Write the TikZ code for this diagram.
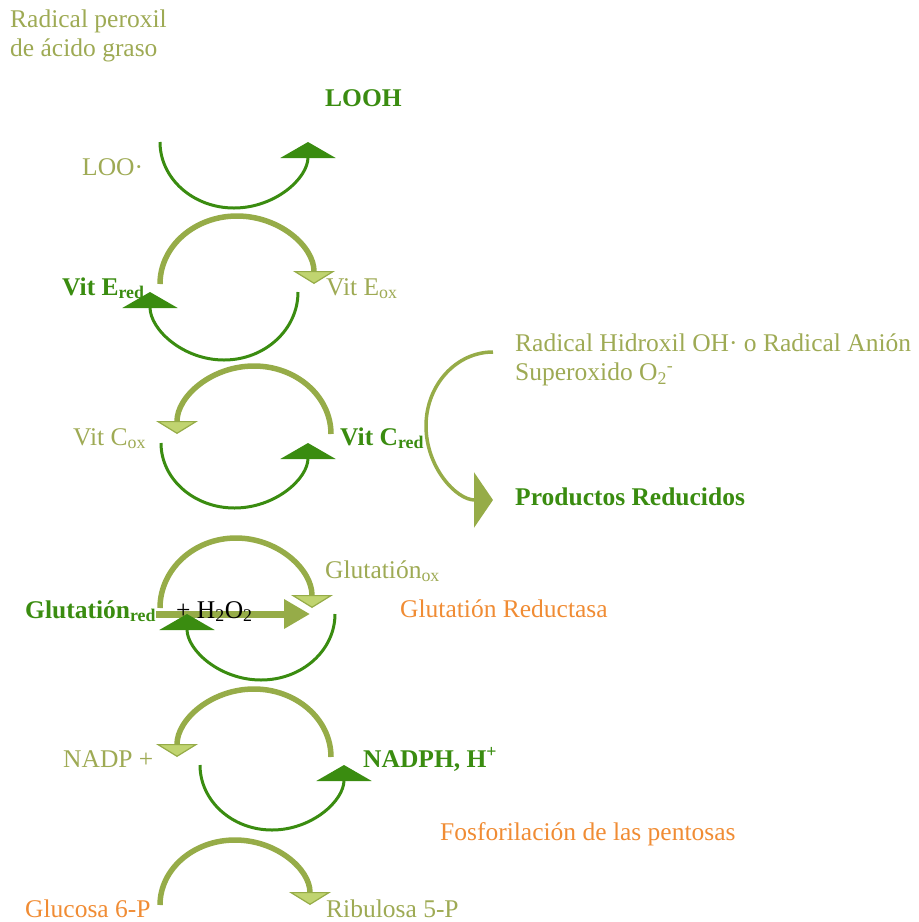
\documentclass[tikz,border=0pt]{standalone}
\usepackage{fontspec}
\setmainfont{Liberation Serif}
\usetikzlibrary{arrows.meta}

\definecolor{leafgreen}{RGB}{58,140,16}
\definecolor{olivetext}{RGB}{158,170,84}
\definecolor{olivearc}{RGB}{150,172,72}
\definecolor{olivefill}{RGB}{192,212,112}
\definecolor{enzorange}{RGB}{240,140,52}
\newcommand{\subtx}[1]{\textsubscript{#1}}

\begin{document}
\begin{tikzpicture}[
    x=1pt, y=-1pt,
    font=\fontsize{25.5}{28.5}\selectfont,
    every node/.style={inner sep=0pt, anchor=base west},
    darkhead/.tip={Triangle[width=55pt, length=16pt]},
    palehead/.tip={Triangle[width=42pt, length=13pt, line width=1.2pt, fill=olivefill]},
    darkarc/.style={draw=leafgreen, line width=3pt, -darkhead},
    palearc/.style={draw=olivearc, line width=5.5pt, -palehead},
    sidearc/.style={draw=olivearc, line width=3.5pt, -{Triangle[width=55pt, length=19pt]}},
    straightarrow/.style={draw=olivearc, line width=7pt, -{Triangle[width=28pt, length=26pt]}},
    oxlabel/.style={text=olivetext},
    redlabel/.style={text=leafgreen, font=\fontsize{25.5}{28.5}\selectfont\bfseries},
    enzlabel/.style={text=enzorange},
    ]
    \useasboundingbox (0,0) rectangle (919,922);

    \coordinate (h2o2tip) at (310,614);
    \node[redlabel] (glured) at (25,618) {Glutatión\subtx{red}};
    \draw[straightarrow] (glured.east |- h2o2tip) -- (h2o2tip);

    % cycle arcs: centre x / centre y / x radius / y radius / from / to / style
    \foreach \cx/\cy/\rx/\ry/\sa/\ea/\kind in {
        234/142/74/66/180/360/darkarc,
        237/284/77/68/180/0/palearc,
        224/292/74/68/360/180/darkarc,
        254/434/77/68/0/180/palearc,
        234.5/443/73.5/65/180/360/darkarc,
        236/608/76/70/180/0/palearc,
        261/614/74/66/360/180/darkarc,
        254/757/77/68/0/180/palearc,
        272/765/72/65/180/360/darkarc,
        235/905/75/65/180/0/palearc}{
        \draw[\kind] (\cx,\cy) ++(\sa:\rx pt and \ry pt)
            arc[start angle=\sa, end angle=\ea, x radius=\rx pt, y radius=\ry pt];
    }
    \draw[sidearc] (493,352) arc[start angle=90, end angle=270, x radius=67pt, y radius=74pt];

    \node[oxlabel, align=left, anchor=north west] (peroxyl) at (10,10) {Radical peroxil\\de ácido graso};
    \node[redlabel] (looh) at (325,106) {LOOH};
    \node[oxlabel] (loo) at (82,175) {LOO·};
    \node[redlabel] (vitered) at (62,295) {Vit E\subtx{red}};
    \node[oxlabel] (viteox) at (326,295) {Vit E\subtx{ox}};
    \node[oxlabel] (vitcox) at (73,445) {Vit C\subtx{ox}};
    \node[redlabel] (vitcred) at (340,445) {Vit C\subtx{red}};
    \node[oxlabel, align=left, anchor=north west] (hydroxyl) at (515,334)
        {Radical Hidroxil OH· o Radical Anión\\Superoxido O\subtx{2}\textsuperscript{-}};
    \node[redlabel] (products) at (515,505) {Productos Reducidos};
    \node[oxlabel] (gluox) at (325,578) {Glutatión\subtx{ox}};
    \node (peroxide) at (176,618) {+ H\subtx{2}O\subtx{2}};
    \node[enzlabel] (reductase) at (400,617) {Glutatión Reductasa};
    \node[oxlabel] (nadp) at (63,767) {NADP +};
    \node[redlabel] (nadph) at (363,767) {NADPH, H\textsuperscript{+}};
    \node[enzlabel] (phosph) at (440,840) {Fosforilación de las pentosas};
    \node[enzlabel] (glucose) at (25,917) {Glucosa 6-P};
    \node[oxlabel] (ribulose) at (326,917) {Ribulosa 5-P};
\end{tikzpicture}
\end{document}
